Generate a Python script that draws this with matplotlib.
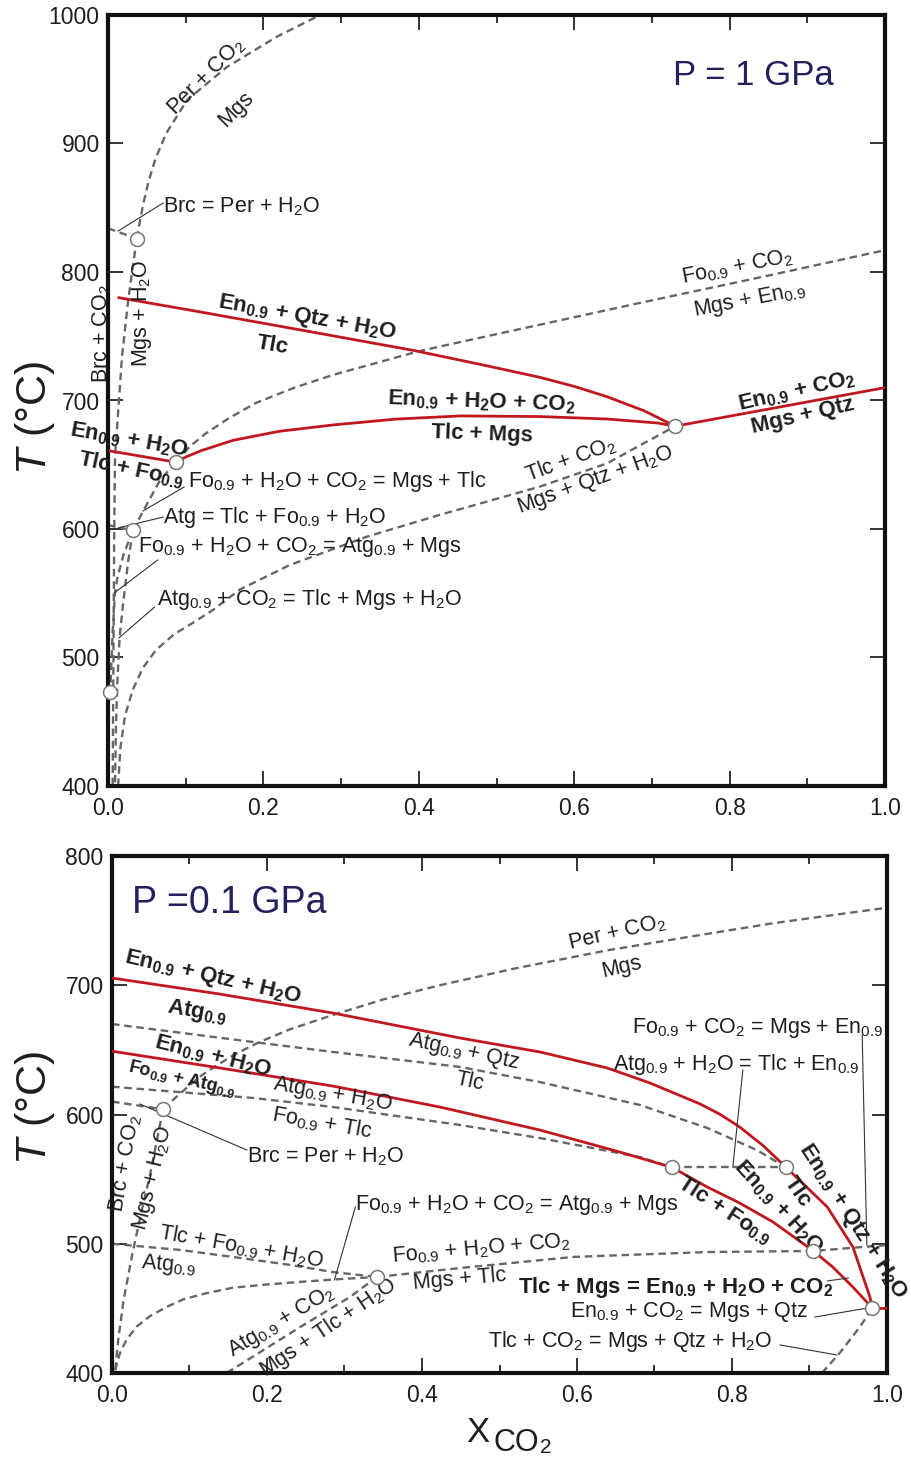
import matplotlib
matplotlib.use('Agg')
import matplotlib.pyplot as plt
from matplotlib.ticker import MultipleLocator

plt.rcParams['font.family'] = ['Liberation Sans', 'DejaVu Sans']
plt.rcParams['mathtext.fontset'] = 'custom'
plt.rcParams['mathtext.rm'] = 'Liberation Sans'
plt.rcParams['mathtext.it'] = 'Liberation Sans:italic'
plt.rcParams['mathtext.bf'] = 'Liberation Sans:bold'

# ---------------- P = 1 GPa ----------------
t_per_x = [0.037, 0.040, 0.045, 0.052, 0.061, 0.075, 0.102, 0.153, 0.217, 0.273]
t_per_t = [826, 836, 852, 870, 888, 908, 934, 959.5, 983, 1000]
t_brc_x = [0.037, 0.026, 0.018, 0.012, 0.009, 0.008, 0.007, 0.006]
t_brc_t = [826, 778, 734, 682, 656, 600, 500, 400]
t_brcper_x = [0.0, 0.037]
t_brcper_t = [834, 826]
t_tlc_x = [0.014, 0.118, 0.247, 0.393, 0.480, 0.556, 0.600, 0.642, 0.690, 0.730]
t_tlc_t = [780, 769, 755, 739, 728, 718, 711, 703, 692, 680]
t_tlcmgs_x = [0.0875, 0.100, 0.12, 0.161, 0.22, 0.29, 0.37, 0.453, 0.556, 0.642,
              0.707, 0.730]
t_tlcmgs_t = [652, 656, 661, 669, 676, 681, 685.5, 688, 687.5, 685.6, 682.5, 680]
t_mgsqtz_x = [0.730, 1.0]
t_mgsqtz_t = [680, 710]
t_tlcfo_x = [0.003, 0.0875]
t_tlcfo_t = [660.7, 652]
t_foco2_x = [0.0875, 0.105, 0.125, 0.155, 0.190, 0.240, 0.290, 0.350, 0.398,
             0.427, 0.685, 0.856, 1.0]
t_foco2_t = [652, 664, 674, 686, 698, 710, 720, 730, 738, 742, 776, 798, 817]
t_fomgs_x = [0.0875, 0.067, 0.048, 0.032]
t_fomgs_t = [652, 638, 617, 599]
t_atg_x = [0.0, 0.032]
t_atg_t = [603, 599]
t_foatg_x = [0.032, 0.020, 0.012, 0.009, 0.006, 0.004, 0.003]
t_foatg_t = [599, 580, 562, 550, 520, 490, 473]
t_atgco2_x = [0.032, 0.026, 0.020, 0.015, 0.012, 0.010, 0.009]
t_atgco2_t = [599, 575, 545, 516, 480, 440, 400]
t_tlcco2_x = [0.013, 0.016, 0.022, 0.032, 0.045, 0.062, 0.085, 0.112, 0.135,
              0.170, 0.234, 0.333, 0.427, 0.556, 0.642, 0.730]
t_tlcco2_t = [400, 430, 455, 475, 492, 506, 518, 528, 537,
              553, 572, 594, 611, 633, 651, 680]
t_pts_x = [0.037, 0.0875, 0.032, 0.003, 0.730]
t_pts_t = [826, 652, 599, 473, 680]

# ---------------- P = 0.1 GPa ----------------
b_per_x = [0.066, 0.080, 0.097, 0.115, 0.135, 0.160, 0.190, 0.230, 0.285, 0.350,
           0.423, 0.520, 0.639, 0.750, 0.853, 1.0]
b_per_t = [604, 612, 621, 630, 638, 647, 656, 666, 677, 689,
           700, 713, 727, 738, 748, 760]
b_brc_x = [0.066, 0.058, 0.049, 0.037, 0.026, 0.015, 0.008, 0.004]
b_brc_t = [604.3, 580.3, 553.2, 522.2, 491.3, 456.5, 425.5, 400.8]
b_brcper_x = [0.0, 0.066]
b_brcper_t = [610, 604]
b_atg_x = [0.0, 0.139, 0.285, 0.449, 0.552, 0.639, 0.694, 0.759, 0.785, 0.810,
           0.840, 0.870, 0.923, 0.956, 0.978, 0.981]
b_atg_t = [705.6, 693.2, 678.5, 659.2, 648.4, 636.0, 624.4, 608.1, 600, 590.3,
           576, 559, 528.4, 497.5, 458.8, 450.3]
b_enh2o_x = [0.0, 0.139, 0.285, 0.423, 0.552, 0.655, 0.723, 0.768, 0.810, 0.853,
             0.905, 0.930, 0.956, 0.981]
b_enh2o_t = [649, 636, 622, 605.8, 588, 571, 559, 543.9, 531.5, 516.8,
             494.4, 482, 466.5, 450.3]
b_end_x = [0.981, 1.0]
b_end_t = [450.3, 450.3]
b_qtz_x = [0.0, 0.182, 0.285, 0.449, 0.552, 0.681, 0.768, 0.832, 0.870]
b_qtz_t = [670, 656.1, 648.4, 636.8, 625.1, 607.4, 589.6, 572.5, 559]
b_atgh2o_x = [0.0, 0.182, 0.285, 0.449, 0.552, 0.681, 0.723]
b_atgh2o_t = [621.5, 612.8, 605.8, 591.9, 581.8, 567.1, 559]
b_tlcen_x = [0.723, 0.870]
b_tlcen_t = [559, 559]
b_mgstlc_x = [0.342, 0.449, 0.595, 0.768, 0.905, 1.0]
b_mgstlc_t = [474.3, 481.2, 489.8, 493.6, 494.4, 499]
b_tlcfo_x = [0.0, 0.088, 0.156, 0.230, 0.285, 0.342]
b_tlcfo_t = [500, 495.2, 489.8, 483.6, 478.1, 474.3]
b_foatg_x = [0.004, 0.010, 0.019, 0.032, 0.049, 0.070, 0.092, 0.120, 0.156,
             0.200, 0.243, 0.290, 0.342]
b_foatg_t = [402, 415, 426, 436, 444, 451, 457, 461.5, 466,
             468.5, 470.5, 472.5, 474.3]
b_atgco2_x = [0.148, 0.243, 0.307, 0.342]
b_atgco2_t = [400, 435.6, 458.8, 474.3]
b_tlcco2_x = [0.916, 0.939, 0.965, 0.981]
b_tlcco2_t = [400, 415.5, 435.6, 450.3]
b_pts_x = [0.066, 0.342, 0.723, 0.870, 0.905, 0.981]
b_pts_t = [604, 474.3, 559, 559, 494.4, 450.3]

RED = '#c0181e'
GRAY = '#666666'
NAVY = '#24205e'
INK = '#1e1e1e'

N = r'$_{\mathrm{0.9}}$'
NB = r'$_{\mathbf{0.9}}$'
H2O = r'H$_{\mathrm{2}}$O'
H2OB = r'H$_{\mathbf{2}}$O'
CO2 = r'CO$_{\mathrm{2}}$'
CO2B = r'CO$_{\mathbf{2}}$'


def dash(ax, x, y):
    ax.plot(x, y, color=GRAY, lw=1.7, ls=(0, (3.2, 2.0)), zorder=2)


def red(ax, x, y):
    ax.plot(x, y, color=RED, lw=2.0, zorder=3)


def lab(ax, x, y, s, rot=0, bold=False, size=15.5, ha='center'):
    ax.text(x, y, s, rotation=rot, ha=ha, va='center', fontsize=size,
            fontweight='bold' if bold else 'normal', color=INK,
            rotation_mode='anchor', zorder=5)


def lead(ax, x, y):
    ax.plot(x, y, color='#333333', lw=0.8, zorder=4)


def style(ax, ylo, yhi):
    ax.set_xlim(0, 1)
    ax.set_ylim(ylo, yhi)
    ax.xaxis.set_major_locator(MultipleLocator(0.2))
    ax.xaxis.set_minor_locator(MultipleLocator(0.1))
    ax.yaxis.set_major_locator(MultipleLocator(100))
    ax.xaxis.set_major_formatter(matplotlib.ticker.FormatStrFormatter('%.1f'))
    ax.tick_params(which='both', direction='in', top=True, right=True,
                   width=1.4, colors='#333333', labelcolor=INK, labelsize=16.5)
    ax.tick_params(which='major', length=11)
    ax.tick_params(which='minor', length=6)
    ax.tick_params(axis='x', pad=8)
    ax.tick_params(axis='y', pad=6)
    for sp in ax.spines.values():
        sp.set_linewidth(3)
        sp.set_color('#111111')


fig = plt.figure(figsize=(9.12, 14.59), dpi=100)
ax1 = fig.add_axes([108 / 912, 1 - 786 / 1459, 777 / 912, 771 / 1459])
ax2 = fig.add_axes([112 / 912, 1 - 1373 / 1459, 775 / 912, 517 / 1459])

# ---- top panel ----
for xs, ts in [(t_per_x, t_per_t), (t_brc_x, t_brc_t), (t_brcper_x, t_brcper_t),
               (t_foco2_x, t_foco2_t), (t_fomgs_x, t_fomgs_t), (t_atg_x, t_atg_t),
               (t_foatg_x, t_foatg_t), (t_atgco2_x, t_atgco2_t),
               (t_tlcco2_x, t_tlcco2_t)]:
    dash(ax1, xs, ts)
for xs, ts in [(t_tlc_x, t_tlc_t), (t_tlcmgs_x, t_tlcmgs_t),
               (t_mgsqtz_x, t_mgsqtz_t), (t_tlcfo_x, t_tlcfo_t)]:
    red(ax1, xs, ts)
ax1.plot(t_pts_x, t_pts_t, 'o', ms=10, mfc='white', mec='#777777', mew=1.1,
         zorder=6, clip_on=False)
style(ax1, 400, 1000)

lab(ax1, 0.127, 952, 'Per + ' + CO2, rot=45)
lab(ax1, 0.165, 927, 'Mgs', rot=45)
lab(ax1, 0.071, 851, 'Brc = Per + ' + H2O, ha='left')
lab(ax1, -0.008, 752, 'Brc + ' + CO2, rot=90)
lab(ax1, 0.044, 768, 'Mgs + ' + H2O, rot=90)
lab(ax1, 0.256, 764, 'En' + NB + ' + Qtz + ' + H2OB, rot=-10, bold=True, size=16)
lab(ax1, 0.212, 743, 'Tlc', rot=-10, bold=True, size=16)
lab(ax1, 0.481, 699, 'En' + NB + ' + ' + H2OB + ' + ' + CO2B, rot=-2, bold=True, size=16)
lab(ax1, 0.481, 674, 'Tlc + Mgs', rot=-2, bold=True, size=16)
lab(ax1, 0.887, 707, 'En' + NB + ' + ' + CO2B, rot=13, bold=True, size=16)
lab(ax1, 0.894, 688, 'Mgs + Qtz', rot=13, bold=True, size=16)
lab(ax1, 0.027, 669, 'En' + NB + ' + ' + H2OB, rot=-10, bold=True, size=16)
lab(ax1, 0.030, 646, 'Tlc + Fo' + NB, rot=-12, bold=True, size=16)
lab(ax1, 0.103, 637, 'Fo' + N + ' + ' + H2O + ' + ' + CO2 + ' = Mgs + Tlc', ha='left')
lab(ax1, 0.071, 609, 'Atg = Tlc + Fo' + N + ' + ' + H2O, ha='left')
lab(ax1, 0.039, 586, 'Fo' + N + ' + ' + H2O + ' + ' + CO2 + ' = Atg' + N + ' + Mgs', ha='left')
lab(ax1, 0.063, 545.5, 'Atg' + N + ' + ' + CO2 + ' = Tlc + Mgs + ' + H2O, ha='left')
lab(ax1, 0.810, 804, 'Fo' + N + ' + ' + CO2, rot=11)
lab(ax1, 0.826, 778, 'Mgs + En' + N, rot=11)
lab(ax1, 0.595, 654, 'Tlc + ' + CO2, rot=20)
lab(ax1, 0.628, 638, 'Mgs + Qtz + ' + H2O, rot=20)
ax1.text(0.830, 953, 'P = 1 GPa', ha='center', va='center', fontsize=25, color=NAVY)

lead(ax1, [0.071, 0.013], [853.7, 831.9])
lead(ax1, [0.098, 0.045], [632.7, 614])
lead(ax1, [0.071, 0.013], [609.3, 600.8])
lead(ax1, [0.064, 0.008], [575.9, 550.2])
lead(ax1, [0.060, 0.014], [539.3, 515.2])

# ---- bottom panel ----
for xs, ts in [(b_per_x, b_per_t), (b_brc_x, b_brc_t), (b_brcper_x, b_brcper_t),
               (b_qtz_x, b_qtz_t), (b_atgh2o_x, b_atgh2o_t), (b_tlcen_x, b_tlcen_t),
               (b_mgstlc_x, b_mgstlc_t), (b_tlcfo_x, b_tlcfo_t),
               (b_foatg_x, b_foatg_t), (b_atgco2_x, b_atgco2_t),
               (b_tlcco2_x, b_tlcco2_t)]:
    dash(ax2, xs, ts)
for xs, ts in [(b_atg_x, b_atg_t), (b_enh2o_x, b_enh2o_t), (b_end_x, b_end_t)]:
    red(ax2, xs, ts)
ax2.plot(b_pts_x, b_pts_t, 'o', ms=10, mfc='white', mec='#777777', mew=1.1,
         zorder=6, clip_on=False)
style(ax2, 400, 800)

ax2.text(0.151, 764, 'P =0.1 GPa', ha='center', va='center', fontsize=27, color=NAVY)
lab(ax2, 0.652, 741, 'Per + ' + CO2, rot=13)
lab(ax2, 0.658, 714, 'Mgs', rot=13)
lab(ax2, 0.130, 706, 'En' + NB + ' + Qtz + ' + H2OB, rot=-13, bold=True, size=16)
lab(ax2, 0.110, 679, 'Atg' + NB, rot=-10, bold=True, size=16)
lab(ax2, 0.130, 644.5, 'En' + NB + ' + ' + H2OB, rot=-14, bold=True, size=16)
lab(ax2, 0.090, 627.5, 'Fo' + NB + ' + Atg' + NB, rot=-13, bold=True, size=13)
lab(ax2, 0.454, 648.4, 'Atg' + N + ' + Qtz', rot=-12)
lab(ax2, 0.462, 625.2, 'Tlc', rot=-12)
lab(ax2, 0.284, 615, 'Atg' + N + ' + ' + H2O, rot=-10)
lab(ax2, 0.271, 593.4, 'Fo' + N + ' + Tlc', rot=-10)
lab(ax2, 0.174, 567, 'Brc = Per + ' + H2O, ha='left')
lab(ax2, 0.017, 562, 'Brc + ' + CO2, rot=80)
lab(ax2, 0.053, 551, 'Mgs + ' + H2O, rot=76)
lab(ax2, 0.167, 497.5, 'Tlc + Fo' + N + ' + ' + H2O, rot=-10)
lab(ax2, 0.073, 483.6, 'Atg' + N, rot=-5)
lab(ax2, 0.314, 530, 'Fo' + N + ' + ' + H2O + ' + ' + CO2 + ' = Atg' + N + ' + Mgs', ha='left')
lab(ax2, 0.477, 496, 'Fo' + N + ' + ' + H2O + ' + ' + CO2, rot=5)
lab(ax2, 0.448, 472, 'Mgs + Tlc', rot=5)
lab(ax2, 0.219, 440, 'Atg' + N + ' + ' + CO2, rot=31)
lab(ax2, 0.279, 435, 'Mgs + Tlc + ' + H2O, rot=34)
lab(ax2, 0.671, 667, 'Fo' + N + ' + ' + CO2 + ' = Mgs + En' + N, ha='left')
lab(ax2, 0.646, 638.3, 'Atg' + N + ' + ' + H2O + ' = Tlc + En' + N, ha='left')
lab(ax2, 0.791, 526, 'Tlc + Fo' + NB, rot=-33, bold=True, size=16)
lab(ax2, 0.860, 528, 'En' + NB + ' + ' + H2OB, rot=-47, bold=True, size=16)
lab(ax2, 0.884, 540, 'Tlc', rot=-55, bold=True, size=16)
lab(ax2, 0.956, 517, 'En' + NB + ' + Qtz + ' + H2OB, rot=-57, bold=True, size=16)
lab(ax2, 0.524, 466.5, 'Tlc + Mgs = En' + NB + ' + ' + H2OB + ' + ' + CO2B, ha='left',
    bold=True, size=16)
lab(ax2, 0.591, 447, 'En' + N + ' + ' + CO2 + ' = Mgs + Qtz', ha='left')
lab(ax2, 0.485, 424, 'Tlc + ' + CO2 + ' = Mgs + Qtz + ' + H2O, ha='left')

lead(ax2, [0.036, 0.174], [608.1, 572.5])
lead(ax2, [0.314, 0.287], [528.4, 472])
lead(ax2, [0.814, 0.801], [634.4, 559])
lead(ax2, [0.968, 0.974], [661.5, 499])
lead(ax2, [0.923, 0.950], [471.2, 473.5])
lead(ax2, [0.907, 0.975], [443.3, 450.3])
lead(ax2, [0.862, 0.935], [421.7, 414])

# axis titles
fig.text(35 / 912, 1 - 418 / 1459, r'$T$ (°C)', rotation=90, ha='center',
         va='center', fontsize=31, color=INK)
fig.text(35 / 912, 1 - 1108 / 1459, r'$T$ (°C)', rotation=90, ha='center',
         va='center', fontsize=31, color=INK)
fig.text(466 / 912, 1 - 1442 / 1459, 'X', fontsize=25, va='baseline', color=INK)
fig.text(494 / 912, 1 - 1451 / 1459, 'CO', fontsize=22, va='baseline', color=INK)
fig.text(540 / 912, 1 - 1453 / 1459, '2', fontsize=15, va='baseline', color=INK)

fig.savefig('out.png', dpi=100)
